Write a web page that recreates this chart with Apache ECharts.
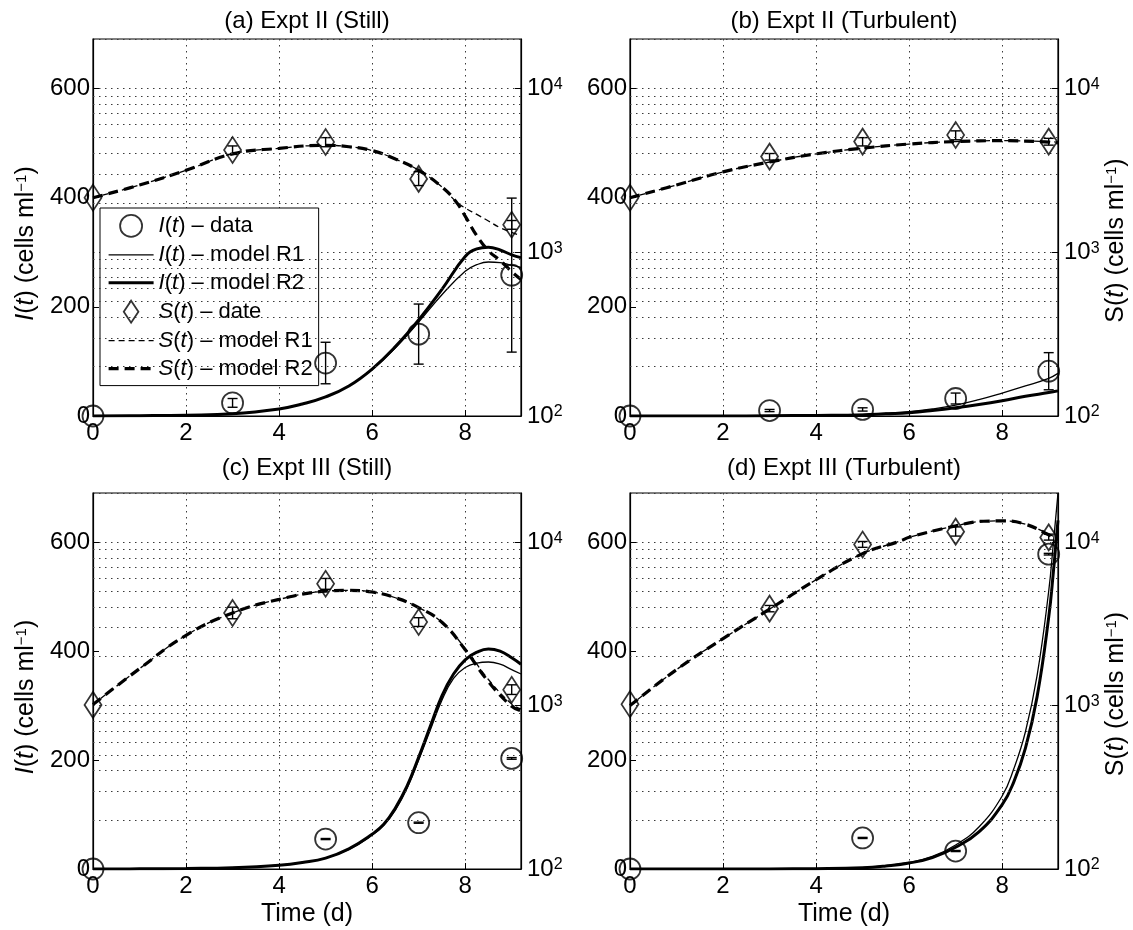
<!DOCTYPE html>
<html>
<head>
<meta charset="utf-8">
<script src="https://cdn.jsdelivr.net/npm/echarts@6/dist/echarts.min.js"></script>
<style>
  html, body { margin: 0; background: #fff; }
  #chart { width: 1133px; height: 930px; }
</style>
</head>
<body>
<div id="chart"></div>
<script>
const FONT = '"Liberation Sans", Arial, sans-serif';

const panelTitles = ['(a) Expt II (Still)', '(b) Expt II (Turbulent)', '(c) Expt III (Still)', '(d) Expt III (Turbulent)'];
const timeTicks = [0, 2, 4, 6, 8];
const iTicks = [0, 200, 400, 600];
const logMinorGrid = [200, 300, 400, 500, 600, 700, 800, 900, 2000, 3000, 4000, 5000, 6000, 7000, 8000, 9000];

// (a) Expt II still
const aIDays = [0, 3, 5, 7, 9];
const aI = [0, 24, 97, 150, 258];
const aIErr = [0, 8, 38, 55, 141];
const aSDays = [0, 3, 5, 7, 9];
const aS = [2150, 4200, 4700, 2800, 1470];
const aSLow = [2150, 3950, 4400, 2550, 1380];
const aSHigh = [2150, 4450, 5000, 3100, 1560];
const aIModelT = [0, 1, 2, 3, 4, 4.5, 5, 5.5, 6, 6.5, 7, 7.5, 8, 8.25, 8.5, 8.75, 9, 9.2];
const aIR1 = [0, 0.5, 1.5, 4, 13, 22, 35, 55, 85, 125, 172, 222, 265, 277, 282, 281, 276, 272];
const aIR2 = [0, 0.5, 1.5, 4, 13, 22, 35, 55, 86, 127, 176, 232, 292, 306, 309, 304, 295, 290];
const aSModelT = [0, 1, 2, 3, 4, 5, 5.5, 6, 6.5, 7, 7.5, 7.8, 8, 8.25, 8.5, 8.75, 9, 9.2];
const aSR1 = [2150, 2570, 3160, 3980, 4300, 4490, 4400, 4170, 3700, 3160, 2500, 2040, 1860, 1700, 1550, 1410, 1320, 1260];
const aSR2 = [2150, 2570, 3160, 3980, 4300, 4490, 4400, 4170, 3700, 3160, 2500, 2040, 1660, 1260, 1020, 890, 760, 680];

// (b) Expt II turbulent
const bIDays = [0, 3, 5, 7, 9];
const bI = [0, 10, 12, 32, 82];
const bIErr = [0, 2, 3, 10, 34];
const bSDays = [0, 3, 5, 7, 9];
const bS = [2150, 3830, 4730, 5190, 4730];
const bSLow = [2150, 3650, 4450, 4850, 4500];
const bSHigh = [2150, 4000, 5000, 5500, 4950];
const bIModelT = [0, 1, 2, 3, 4, 5, 5.5, 6, 6.5, 7, 7.5, 8, 8.5, 9, 9.2];
const bIR1 = [0, 0, 0, 0.5, 1, 3, 5, 8, 13, 20, 30, 42, 55, 69, 78];
const bIR2 = [0, 0, 0, 0.5, 1, 2, 4, 6, 10, 15, 21, 28, 36, 43, 46];
const bSModelT = [0, 1, 2, 3, 4, 5, 6, 7, 8, 9, 9.2];
const bSR1 = [2150, 2570, 3090, 3550, 3980, 4310, 4570, 4730, 4790, 4730, 4680];
const bSR2 = [2150, 2570, 3090, 3550, 3980, 4310, 4570, 4730, 4790, 4700, 4650];

// (c) Expt III still
const cIDays = [0, 5, 7, 9];
const cI = [0, 55, 85, 203];
const cIErr = [0, 1, 1, 1.5];
const cSDays = [0, 3, 5, 7, 9];
const cS = [1010, 3690, 5570, 3250, 1250];
const cSLow = [1010, 3400, 5150, 3050, 1170];
const cSHigh = [1010, 4000, 6000, 3450, 1340];
const cIModelT = [0, 1, 2, 3, 4, 4.5, 5, 5.5, 6, 6.25, 6.5, 6.75, 7, 7.25, 7.5, 7.75, 8, 8.25, 8.5, 8.75, 9, 9.2];
const cIR1 = [0, 0.3, 1, 2.5, 7, 12, 20, 36, 62, 80, 108, 148, 200, 255, 310, 350, 370, 378, 380, 376, 366, 358];
const cIR2 = [0, 0.3, 1, 2.5, 7, 12, 20, 37, 64, 82, 112, 152, 205, 262, 318, 358, 384, 398, 404, 400, 388, 376];
const cSModelT = [0, 1, 2, 3, 4, 5, 5.5, 6, 6.5, 7, 7.5, 8, 8.5, 9, 9.2];
const cSR1 = [1014, 1683, 2692, 3690, 4467, 5012, 5070, 4955, 4571, 3981, 3236, 2239, 1445, 1023, 955];
const cSR2 = [1014, 1683, 2692, 3690, 4467, 5012, 5070, 4955, 4571, 3981, 3236, 2200, 1400, 990, 930];

// (d) Expt III turbulent
const dIDays = [0, 5, 7, 9];
const dI = [0, 57, 33, 578];
const dIErr = [0, 1, 1, 1.5];
const dSDays = [0, 3, 5, 7, 9];
const dS = [1020, 3920, 9680, 11600, 10700];
const dSLow = [1020, 3750, 9300, 10900, 10300];
const dSHigh = [1020, 4100, 10100, 12400, 11200];
const dIModelT = [0, 1, 2, 3, 4, 5, 5.5, 6, 6.5, 7, 7.5, 8, 8.25, 8.5, 8.75, 9, 9.1, 9.2];
const dIR1 = [0, 0, 0, 0.2, 0.7, 2.5, 6, 12, 23, 44, 77, 134, 184, 252, 355, 510, 598, 690];
const dIR2 = [0, 0, 0, 0.2, 0.6, 2.2, 5.5, 11, 21, 40, 68, 118, 160, 222, 316, 462, 545, 640];
const dSModelT = [0, 1, 2, 3, 4, 5, 5.8, 6, 7, 7.6, 8, 8.5, 9, 9.2];
const dSR1 = [1000, 1660, 2570, 3890, 5890, 8510, 10140, 10720, 12590, 13430, 13490, 12880, 11220, 10470];
const dSR2 = [1000, 1660, 2570, 3890, 5890, 8510, 10140, 10720, 12590, 13430, 13490, 12880, 11100, 10300];

const panels = [
  { iDays: aIDays, i: aI, iErr: aIErr, sDays: aSDays, s: aS, sLow: aSLow, sHigh: aSHigh,
    iT: aIModelT, iR1: aIR1, iR2: aIR2, sT: aSModelT, sR1: aSR1, sR2: aSR2 },
  { iDays: bIDays, i: bI, iErr: bIErr, sDays: bSDays, s: bS, sLow: bSLow, sHigh: bSHigh,
    iT: bIModelT, iR1: bIR1, iR2: bIR2, sT: bSModelT, sR1: bSR1, sR2: bSR2 },
  { iDays: cIDays, i: cI, iErr: cIErr, sDays: cSDays, s: cS, sLow: cSLow, sHigh: cSHigh,
    iT: cIModelT, iR1: cIR1, iR2: cIR2, sT: cSModelT, sR1: cSR1, sR2: cSR2 },
  { iDays: dIDays, i: dI, iErr: dIErr, sDays: dSDays, s: dS, sLow: dSLow, sHigh: dSHigh,
    iT: dIModelT, iR1: dIR1, iR2: dIR2, sT: dSModelT, sR1: dSR1, sR2: dSR2 }
];

const legendNames = ['I(t) – data', 'I(t) – model R1', 'I(t) – model R2', 'S(t) – date', 'S(t) – model R1', 'S(t) – model R2'];

// layout
const gridBoxes = [
  { left: 93, top: 39, width: 428, height: 377 },
  { left: 630, top: 39, width: 428, height: 377 },
  { left: 93, top: 493, width: 428, height: 376 },
  { left: 630, top: 493, width: 428, height: 376 }
];
const titleY = [4, 4, 451, 451];

const dotted = { color: '#3a3a3a', width: 1, type: [1.5, 4.5] };
const thin = { color: '#000', width: 1.3 };
const thick = { color: '#000', width: 3 };
const thinDash = { color: '#000', width: 1.3, type: [6, 4] };
const thickDash = { color: '#000', width: 3.2, type: [10, 6] };
const hollow = { color: 'rgba(0,0,0,0)', borderColor: '#000', borderWidth: 1.8 };
const diamondPath = 'path://M10,0L20,15L10,30L0,15Z';

const richText = {
  it: { fontStyle: 'italic', fontSize: 25, fontFamily: FONT, color: '#000' },
  sup: { fontSize: 15, fontFamily: FONT, color: '#000', verticalAlign: 'top' }
};
const legendRich = {
  it: { fontStyle: 'italic', fontSize: 22, fontFamily: FONT, color: '#000' }
};
const tickRich = {
  sup: { fontSize: 16, fontFamily: FONT, color: '#000', verticalAlign: 'top' }
};

function pts(xs, ys) {
  return xs.map((x, k) => [x, ys[k]]);
}
function bars(xs, lo, hi) {
  const out = [];
  xs.forEach((x, k) => { if (hi[k] > lo[k]) out.push([x, lo[k], hi[k]]); });
  return out;
}

function errorBar(params, api) {
  const x = api.value(0);
  const a = api.coord([x, api.value(1)]);
  const b = api.coord([x, api.value(2)]);
  const w = 5;
  const style = { stroke: '#000', lineWidth: 1.4 };
  return {
    type: 'group',
    children: [
      { type: 'line', shape: { x1: a[0], y1: a[1], x2: b[0], y2: b[1] }, style: style },
      { type: 'line', shape: { x1: a[0] - w, y1: a[1], x2: a[0] + w, y2: a[1] }, style: style },
      { type: 'line', shape: { x1: b[0] - w, y1: b[1], x2: b[0] + w, y2: b[1] }, style: style }
    ]
  };
}

const grids = [], xAxes = [], yAxes = [], titles = [], series = [];

panels.forEach((p, k) => {
  const bottomRow = k >= 2;
  const leftCol = k % 2 === 0;
  grids.push(Object.assign({ show: true, borderColor: '#000', borderWidth: 1.2, containLabel: false }, gridBoxes[k]));

  titles.push({
    text: panelTitles[k],
    left: gridBoxes[k].left + gridBoxes[k].width / 2 - 5,
    top: titleY[k],
    textAlign: 'center',
    textStyle: { fontSize: 24, fontWeight: 'normal', color: '#000', fontFamily: FONT }
  });

  xAxes.push({
    gridIndex: k, type: 'value', min: 0, max: 9.2, interval: 2,
    name: bottomRow ? 'Time (d)' : '', nameLocation: 'middle', nameGap: 33,
    nameTextStyle: { fontSize: 25, color: '#000', fontFamily: FONT },
    axisLine: { lineStyle: { color: '#000', width: 1.2 } },
    axisTick: { inside: true, length: 6, lineStyle: { color: '#000' } },
    axisLabel: { fontSize: 24, color: '#000', fontFamily: FONT, margin: 5, showMaxLabel: false,
                 formatter: v => (timeTicks.indexOf(v) >= 0 ? String(v) : '') },
    splitLine: { show: true, lineStyle: dotted }
  });

  // left: I(t), linear
  yAxes.push({
    gridIndex: k, type: 'value', position: 'left', min: 0, max: 300 * Math.log10(200), interval: 200,
    name: leftCol ? '{it|I}({it|t}) (cells ml{sup|−1})' : '', nameLocation: 'middle', nameGap: 54, nameRotate: 90,
    nameTextStyle: { fontSize: 25, color: '#000', fontFamily: FONT, rich: richText, padding: [0, 32, 0, 0] },
    axisLine: { show: true, lineStyle: { color: '#000', width: 1.2 } },
    axisTick: { show: true, inside: true, length: 6, lineStyle: { color: '#000' } },
    axisLabel: { fontSize: 24, color: '#000', fontFamily: FONT, margin: 3, showMaxLabel: false,
                 formatter: v => (iTicks.indexOf(v) >= 0 ? String(v) : '') },
    splitLine: { show: false }
  });

  // right: S(t), log
  yAxes.push({
    gridIndex: k, type: 'log', logBase: 10, position: 'right', min: 100, max: 20000,
    name: leftCol ? '' : 'S({it|t}) (cells ml{sup|−1})', nameLocation: 'middle', nameGap: 46, nameRotate: 90,
    nameTextStyle: { fontSize: 25, color: '#000', fontFamily: FONT, rich: richText, padding: [0, 26, 0, 0] },
    axisLine: { show: true, lineStyle: { color: '#000', width: 1.2 } },
    axisTick: { show: true, inside: true, length: 6, lineStyle: { color: '#000' } },
    axisLabel: { fontSize: 24, color: '#000', fontFamily: FONT, margin: 6, showMaxLabel: false,
                 formatter: v => '10{sup|' + Math.round(Math.log10(v)) + '}', rich: tickRich },
    splitLine: { show: true, lineStyle: dotted }
  });

  const yi = 2 * k, ys = 2 * k + 1;
  const nm = j => (k === 0 ? legendNames[j] : 'p' + k + '-' + j);

  // minor log grid
  series.push({
    type: 'line', xAxisIndex: k, yAxisIndex: ys, data: [], silent: true, z: 1,
    markLine: { silent: true, symbol: ['none', 'none'], label: { show: false }, lineStyle: dotted,
                data: logMinorGrid.map(v => ({ yAxis: v })) }
  });

  const lineBase = { type: 'line', xAxisIndex: k, smooth: 0.45, symbol: 'none', color: '#000', z: 3 };
  series.push(Object.assign({ name: nm(4), yAxisIndex: ys, data: pts(p.sT, p.sR1), lineStyle: thinDash }, lineBase));
  series.push(Object.assign({ name: nm(5), yAxisIndex: ys, data: pts(p.sT, p.sR2), lineStyle: thickDash }, lineBase));
  series.push(Object.assign({ name: nm(1), yAxisIndex: yi, data: pts(p.iT, p.iR1), lineStyle: thin }, lineBase));
  series.push(Object.assign({ name: nm(2), yAxisIndex: yi, data: pts(p.iT, p.iR2), lineStyle: thick }, lineBase));

  series.push({ type: 'custom', xAxisIndex: k, yAxisIndex: yi, renderItem: errorBar, z: 4,
                encode: { x: 0, y: [1, 2] },
                data: bars(p.iDays, p.i.map((v, j) => v - p.iErr[j]), p.i.map((v, j) => v + p.iErr[j])) });
  series.push({ type: 'custom', xAxisIndex: k, yAxisIndex: ys, renderItem: errorBar, z: 4,
                encode: { x: 0, y: [1, 2] }, data: bars(p.sDays, p.sLow, p.sHigh) });

  series.push({ name: nm(0), type: 'scatter', xAxisIndex: k, yAxisIndex: yi, data: pts(p.iDays, p.i),
                symbol: 'circle', symbolSize: 21, itemStyle: hollow, z: 5 });
  series.push({ name: nm(3), type: 'scatter', xAxisIndex: k, yAxisIndex: ys, data: pts(p.sDays, p.s),
                symbol: 'diamond', symbolSize: [17, 26], itemStyle: hollow, z: 5 });
});

const noMarker = { opacity: 0 };

const chart = echarts.init(document.getElementById('chart'), null, { renderer: 'canvas' });
chart.setOption({
  animation: false,
  backgroundColor: '#fff',
  textStyle: { fontFamily: FONT, color: '#000' },
  title: titles,
  grid: grids,
  xAxis: xAxes,
  yAxis: yAxes,
  legend: {
    orient: 'vertical', left: 100, top: 208,
    backgroundColor: '#fff', borderColor: '#000', borderWidth: 1,
    padding: [6, 6, 6, 7], itemWidth: 45, itemHeight: 22, itemGap: 6,
    selectedMode: false,
    textStyle: { fontSize: 22, color: '#000', fontFamily: FONT, rich: legendRich },
    formatter: name => name.replace(/^([IS])\(t\)/, '{it|$1}({it|t})'),
    data: [
      { name: legendNames[0], icon: 'circle', itemStyle: hollow },
      { name: legendNames[1], lineStyle: thin, itemStyle: noMarker },
      { name: legendNames[2], lineStyle: thick, itemStyle: noMarker },
      { name: legendNames[3], icon: diamondPath, itemStyle: hollow },
      { name: legendNames[4], lineStyle: thinDash, itemStyle: noMarker },
      { name: legendNames[5], lineStyle: thickDash, itemStyle: noMarker }
    ]
  },
  series: series
});
window.onresize = function () {
  chart.resize();
};
</script>
</body>
</html>
